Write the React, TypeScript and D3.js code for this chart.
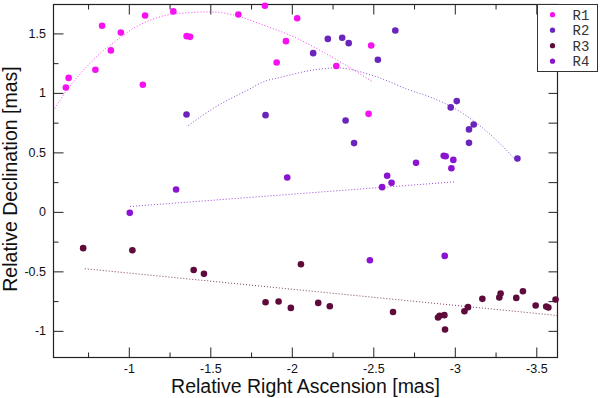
import React, { useRef, useEffect } from "react";
import * as d3 from "d3";

// series values: [RA, Dec] in mas
const r1Points: [number, number][] = [
  [-0.614, 1.046], [-0.631, 1.126], [-0.795, 1.194], [-0.836, 1.564],
  [-0.89, 1.357], [-0.951, 1.508], [-1.086, 1.068], [-1.1, 1.651],
  [-1.273, 1.685], [-1.355, 1.477], [-1.376, 1.471], [-1.672, 1.659],
  [-1.835, 1.732], [-1.907, 1.256], [-1.964, 1.435], [-2.033, 1.628],
  [-2.273, 1.226], [-2.487, 1.399], [-2.471, 0.824],
];
const r2Points: [number, number][] = [
  [-1.354, 0.819], [-1.839, 0.813], [-2.131, 1.334], [-2.221, 1.454],
  [-2.309, 1.463], [-2.349, 1.418], [-2.528, 1.278], [-2.635, 1.525],
  [-2.33, 0.768], [-2.382, 0.578], [-2.975, 0.878], [-3.012, 0.931],
  [-3.087, 0.693], [-3.116, 0.735], [-3.087, 0.58], [-3.384, 0.449],
];
const r3Points: [number, number][] = [
  [-0.72, -0.305], [-1.022, -0.322], [-1.398, -0.488], [-1.461, -0.521],
  [-1.839, -0.759], [-1.919, -0.753], [-1.994, -0.807], [-2.056, -0.44],
  [-2.162, -0.765], [-2.233, -0.793], [-2.621, -0.841], [-2.897, -0.888],
  [-2.907, -0.874], [-2.936, -0.868], [-2.94, -0.989], [-3.059, -0.835],
  [-3.081, -0.801], [-3.169, -0.731], [-3.273, -0.72], [-3.281, -0.686],
  [-3.377, -0.723], [-3.418, -0.667], [-3.496, -0.787], [-3.561, -0.795],
  [-3.574, -0.804], [-3.618, -0.736],
];
const r4Points: [number, number][] = [
  [-1.006, -0.008], [-1.29, 0.188], [-1.972, 0.289], [-2.554, 0.208],
  [-2.585, 0.303], [-2.612, 0.244], [-2.762, 0.412], [-2.932, 0.471],
  [-2.944, 0.468], [-2.991, 0.437], [-2.979, 0.367], [-2.479, -0.406],
  [-2.938, -0.37],
];

// fitted trend curves
const r1Fit: [number, number][] = [
  [-0.542, 0.861], [-0.62, 1.023], [-0.722, 1.191], [-0.824, 1.332],
  [-0.926, 1.443], [-1.028, 1.542], [-1.131, 1.611], [-1.233, 1.654],
  [-1.355, 1.673], [-1.498, 1.681], [-1.621, 1.662], [-1.825, 1.57],
  [-2.029, 1.46], [-2.172, 1.359], [-2.315, 1.247], [-2.489, 1.099],
];
const r2Fit: [number, number][] = [
  [-1.355, 0.715], [-1.518, 0.87], [-1.723, 1.02], [-1.84, 1.1],
  [-1.927, 1.13], [-2.172, 1.2], [-2.275, 1.21], [-2.52, 1.135],
  [-2.724, 1.023], [-2.846, 0.967], [-3.05, 0.827], [-3.255, 0.603],
  [-3.384, 0.42],
];
const r3Fit: [number, number][] = [[-0.718, -0.476], [-3.63, -0.871]];
const r4Fit: [number, number][] = [[-1.006, 0.045], [-2.995, 0.252]];

const seriesNames = ["R1", "R2", "R3", "R4"];
const seriesColors = ["#f511f0", "#6a26bc", "#5e0b3c", "#8a14cf"];

const xTicks = [-1, -1.5, -2, -2.5, -3, -3.5];
const xMinorTicks = [-0.75, -1.25, -1.75, -2.25, -2.75, -3.25];
const yTicks = [-1, -0.5, 0, 0.5, 1, 1.5];
const yMinorTicks = [-0.75, -0.25, 0.25, 0.75, 1.25];

export default function App() {
  const svgRef = useRef<SVGSVGElement>(null);

  useEffect(() => {
    const svg = d3.select(svgRef.current);
    svg.selectAll("*").remove();

    const width = 600;
    const height = 398;
    const margin = { top: 4.5, right: 42.5, bottom: 40.5, left: 53.5 };
    const innerWidth = width - margin.left - margin.right;
    const innerHeight = height - margin.top - margin.bottom;

    const xScale = d3.scaleLinear().domain([-0.538, -3.63]).range([0, innerWidth]);
    const yScale = d3.scaleLinear().domain([-1.224, 1.743]).range([innerHeight, 0]);

    const g = svg
      .append("g")
      .attr("transform", `translate(${margin.left}, ${margin.top})`);

    const fmt = (d: any) => String(d);
    const tickFont = "Liberation Sans, Arial, sans-serif";

    // axes, all ticks point inward
    const styleAxis = (sel: any) => {
      sel.select(".domain").remove();
      sel.selectAll("line").attr("stroke", "#222");
      sel.selectAll("text")
        .attr("fill", "#111")
        .style("font-family", tickFont)
        .style("font-size", "12.5px");
    };

    g.append("g")
      .attr("transform", `translate(0, ${innerHeight})`)
      .call(d3.axisBottom(xScale).tickValues(xTicks).tickFormat(fmt).tickSize(-10).tickPadding(7))
      .call(styleAxis);
    g.append("g")
      .attr("transform", `translate(0, ${innerHeight})`)
      .call(d3.axisBottom(xScale).tickValues(xMinorTicks).tickFormat(() => "").tickSize(-5))
      .call(styleAxis);
    g.append("g")
      .call(d3.axisTop(xScale).tickValues(xTicks).tickFormat(() => "").tickSize(-10))
      .call(styleAxis);
    g.append("g")
      .call(d3.axisTop(xScale).tickValues(xMinorTicks).tickFormat(() => "").tickSize(-5))
      .call(styleAxis);

    g.append("g")
      .call(d3.axisLeft(yScale).tickValues(yTicks).tickFormat(fmt).tickSize(-10).tickPadding(7.5))
      .call(styleAxis);
    g.append("g")
      .call(d3.axisLeft(yScale).tickValues(yMinorTicks).tickFormat(() => "").tickSize(-5))
      .call(styleAxis);
    g.append("g")
      .attr("transform", `translate(${innerWidth}, 0)`)
      .call(d3.axisRight(yScale).tickValues(yTicks.concat(yMinorTicks)).tickFormat(() => "").tickSize(-9))
      .call(styleAxis);

    g.append("rect")
      .attr("width", innerWidth)
      .attr("height", innerHeight)
      .attr("fill", "none")
      .attr("stroke", "#222")
      .attr("stroke-width", 1.2);

    // dotted fit lines
    const line = d3
      .line<[number, number]>()
      .x((d) => xScale(d[0]))
      .y((d) => yScale(d[1]))
      .curve(d3.curveMonotoneX);

    const fits = [r1Fit, r2Fit, r3Fit, r4Fit];
    fits.forEach((f, i) => {
      g.append("path")
        .attr("d", line(f.slice().reverse()))
        .attr("fill", "none")
        .attr("stroke", seriesColors[i])
        .attr("stroke-width", 1)
        .attr("stroke-dasharray", "1,2")
        .attr("opacity", 0.8);
    });

    // data points
    const series = [r1Points, r2Points, r3Points, r4Points];
    series.forEach((pts, i) => {
      g.selectAll(`.pt-${i}`)
        .data(pts)
        .enter()
        .append("circle")
        .attr("class", `pt-${i}`)
        .attr("cx", (d) => xScale(d[0]))
        .attr("cy", (d) => yScale(d[1]))
        .attr("r", 3.3)
        .attr("fill", seriesColors[i]);
    });

    // axis labels
    svg.append("text")
      .attr("x", margin.left + innerWidth / 2)
      .attr("y", 393)
      .attr("text-anchor", "middle")
      .style("font-family", tickFont)
      .style("font-size", "19.5px")
      .attr("fill", "#111")
      .text("Relative Right Ascension [mas]");

    svg.append("text")
      .attr("transform", "translate(16.5, 179) rotate(-90)")
      .attr("text-anchor", "middle")
      .style("font-family", tickFont)
      .style("font-size", "19.5px")
      .attr("fill", "#111")
      .text("Relative Declination [mas]");

    // legend
    const legend = svg.append("g").attr("transform", "translate(537.5, 4.5)");
    legend.append("rect")
      .attr("width", 60)
      .attr("height", 67)
      .attr("fill", "white")
      .attr("stroke", "#333")
      .attr("stroke-width", 1);

    seriesNames.forEach((name, i) => {
      legend.append("circle")
        .attr("cx", 15)
        .attr("cy", 10.2 + i * 15.5)
        .attr("r", 2.6)
        .attr("fill", seriesColors[i]);
      legend.append("text")
        .attr("x", 35)
        .attr("y", 15.2 + i * 15.5)
        .style("font-family", "Liberation Mono, Courier New, monospace")
        .style("font-size", "14px")
        .attr("fill", "#333")
        .text(name);
    });
  }, []);

  return (
    <div style={{ position: "absolute", left: 0, top: 0 }}>
      <svg ref={svgRef} width={600} height={398} style={{ display: "block" }}></svg>
    </div>
  );
}
